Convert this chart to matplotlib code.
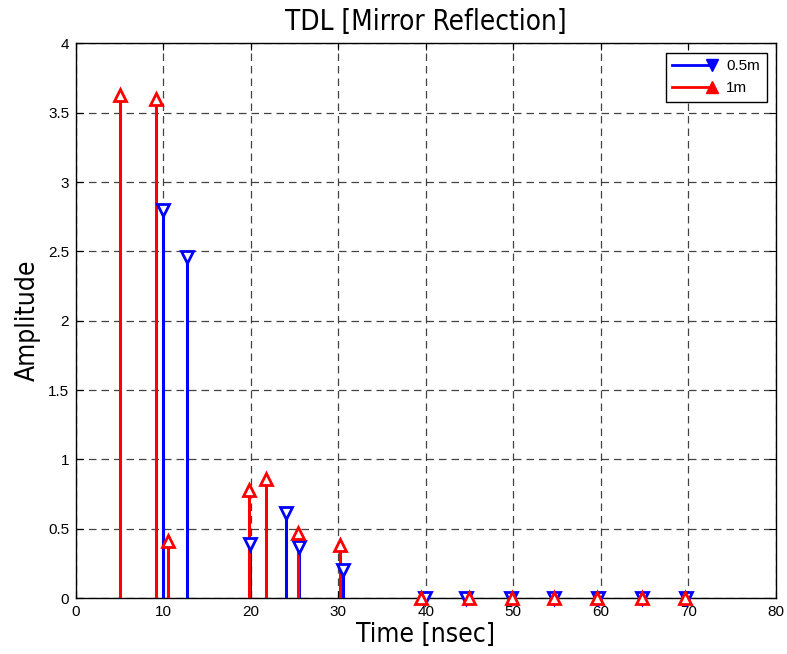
import numpy as np
import matplotlib
matplotlib.use("Agg")
import matplotlib.pyplot as plt
from matplotlib.legend_handler import HandlerLine2D
from matplotlib.lines import Line2D

# Data
t_05 = [10, 12.7, 19.87, 24.06, 25.5, 30.5, 39.9, 44.6, 49.7, 54.7, 59.7, 64.7, 69.8]
a_05 = [2.8, 2.46, 0.39, 0.61, 0.365, 0.2, 0, 0, 0, 0, 0, 0, 0]
t_1 = [5, 9.1, 10.5, 19.76, 21.7, 25.35, 30.2, 39.4, 44.9, 49.9, 54.7, 59.6, 64.7, 69.6]
a_1 = [3.63, 3.6, 0.41, 0.78, 0.86, 0.47, 0.38, 0, 0, 0, 0, 0, 0, 0]
labels = ["0.5m", "1m"]
xticks = [0, 10, 20, 30, 40, 50, 60, 70, 80]
yticks = [0, 0.5, 1, 1.5, 2, 2.5, 3, 3.5, 4]
ytick_labels = ["0", "0.5", "1", "1.5", "2", "2.5", "3", "3.5", "4"]

fig = plt.figure(figsize=(7.87, 6.54), dpi=100)
ax = fig.add_axes([0.0966, 0.0856, 0.889, 0.848])

def draw_stem(x, y, color, marker):
    ax.vlines(x, 0, y, colors=color, linewidth=2.2, zorder=3)
    ax.plot(x, y, linestyle='none', marker=marker, markersize=8,
            markerfacecolor='white', markeredgecolor=color, markeredgewidth=2,
            zorder=4, clip_on=False)

draw_stem(t_05, a_05, '#0000ff', 'v')
draw_stem(t_1, a_1, '#ff0000', '^')

ax.set_xlim(0, 80)
ax.set_ylim(0, 4)
ax.set_xticks(xticks)
ax.set_yticks(yticks)
ax.set_yticklabels(ytick_labels)
ax.tick_params(direction='in', top=True, right=True, length=5, labelsize=11, pad=5)
for lbl in ax.get_xticklabels() + ax.get_yticklabels():
    lbl.set_fontfamily('Liberation Sans')
ax.grid(True, color='#222222', linestyle=(0, (6, 4)), linewidth=0.9, alpha=0.85)
for s in ax.spines.values():
    s.set_linewidth(1)

tfont = dict(family='DejaVu Sans', stretch='condensed', weight='light')
ax.set_title("TDL [Mirror Reflection]", fontsize=20, pad=10, **tfont)
ax.set_xlabel("Time [nsec]", fontsize=19, labelpad=2, **tfont)
ax.set_ylabel("Amplitude", fontsize=19, labelpad=5, **tfont)

class EndMarker(HandlerLine2D):
    def create_artists(self, legend, orig_handle, xdescent, ydescent, width, height, fontsize, trans):
        arts = super().create_artists(legend, orig_handle, xdescent, ydescent, width, height, fontsize, trans)
        for a in arts:
            if isinstance(a, Line2D):
                a.set_markevery([2])
        return arts

h1 = Line2D([], [], color='#0000ff', linewidth=2, marker='v', markersize=8,
            markerfacecolor='#0000ff', markeredgecolor='#0000ff')
h2 = Line2D([], [], color='#ff0000', linewidth=2, marker='^', markersize=8,
            markerfacecolor='#ff0000', markeredgecolor='#ff0000')
leg = ax.legend([h1, h2], labels, loc='upper right', handler_map={Line2D: EndMarker()},
                prop={'family': 'Liberation Sans', 'size': 11}, fancybox=False,
                edgecolor='black', framealpha=1, handlelength=2.6, numpoints=1,
                borderaxespad=0.6, labelspacing=0.5, borderpad=0.45, handletextpad=0.9)
leg.get_frame().set_linewidth(1)

fig.savefig("out.png", dpi=100)
